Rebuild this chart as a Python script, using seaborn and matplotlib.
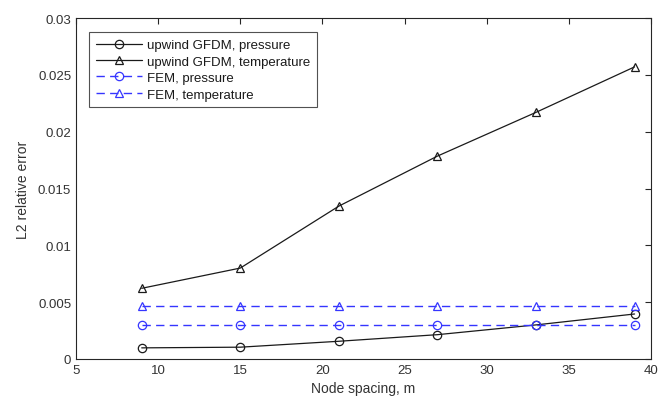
import matplotlib
matplotlib.use("Agg")
import matplotlib.pyplot as plt
import seaborn as sns
import pandas as pd

node_spacing = [9, 15, 21, 27, 33, 39]
gfdm_pressure = [0.00098, 0.00104, 0.00156, 0.00214, 0.0030, 0.00396]
gfdm_temperature = [0.00622, 0.0080, 0.01345, 0.01785, 0.0217, 0.0257]
fem_pressure = [0.0030, 0.0030, 0.0030, 0.0030, 0.0030, 0.0030]
fem_temperature = [0.0047, 0.0047, 0.0047, 0.0047, 0.0047, 0.0047]

labels = ["upwind GFDM, pressure", "upwind GFDM, temperature",
          "FEM, pressure", "FEM, temperature"]
series = [gfdm_pressure, gfdm_temperature, fem_pressure, fem_temperature]

rows = []
for lab, vals in zip(labels, series):
    for x, v in zip(node_spacing, vals):
        rows.append({"x": x, "y": v, "series": lab})
df = pd.DataFrame(rows)

sns.set_style("white")
plt.rcParams['font.family'] = ['Liberation Sans', 'DejaVu Sans']

fig = plt.figure(figsize=(6.58, 4.06), dpi=100)
ax = fig.add_axes([76/658, 1 - 360/406, (651-76)/658, (360-19)/406])

blue = "#3535ff"
styles = {
    labels[0]: dict(color="#1a1a1a", ls="-", marker="o", lw=0.9),
    labels[1]: dict(color="#1a1a1a", ls="-", marker="^", lw=0.9),
    labels[2]: dict(color=blue, ls=(0, (6, 3.8)), marker="o", lw=1.0),
    labels[3]: dict(color=blue, ls=(0, (6, 3.8)), marker="^", lw=1.0),
}
for lab in labels:
    st = styles[lab]
    sns.lineplot(data=df[df["series"] == lab], x="x", y="y", ax=ax,
                 color=st["color"], linestyle=st["ls"], marker=st["marker"],
                 markersize=6, markerfacecolor="none",
                 markeredgecolor=st["color"], markeredgewidth=0.9,
                 linewidth=st["lw"], label=lab)

ax.set_xlim(5, 40)
ax.set_ylim(0, 0.03)
ax.set_xticks([5, 10, 15, 20, 25, 30, 35, 40])
ax.set_yticks([0, 0.005, 0.01, 0.015, 0.02, 0.025, 0.03])
ax.set_yticklabels(["0", "0.005", "0.01", "0.015", "0.02", "0.025", "0.03"])
ax.tick_params(direction="in", top=True, right=True, length=4, width=0.8,
               labelsize=9.5, colors="#262626", labelcolor="#333333")
for s in ax.spines.values():
    s.set_visible(True)
    s.set_color("#262626")
    s.set_linewidth(0.8)
ax.set_xlabel("Node spacing, m", fontsize=10, color="#333333")
ax.set_ylabel("L2 relative error", fontsize=10, color="#333333", labelpad=6)

leg = ax.legend(loc="upper left", bbox_to_anchor=(0.0226, 0.958), fontsize=9.5,
                frameon=True, fancybox=False, edgecolor="#262626",
                handlelength=3.5, borderpad=0.5, labelspacing=0.32,
                handletextpad=0.4, borderaxespad=0)
leg.get_frame().set_linewidth(0.8)
for t in leg.get_texts():
    t.set_color("#1a1a1a")

fig.savefig("out.png", dpi=100)
